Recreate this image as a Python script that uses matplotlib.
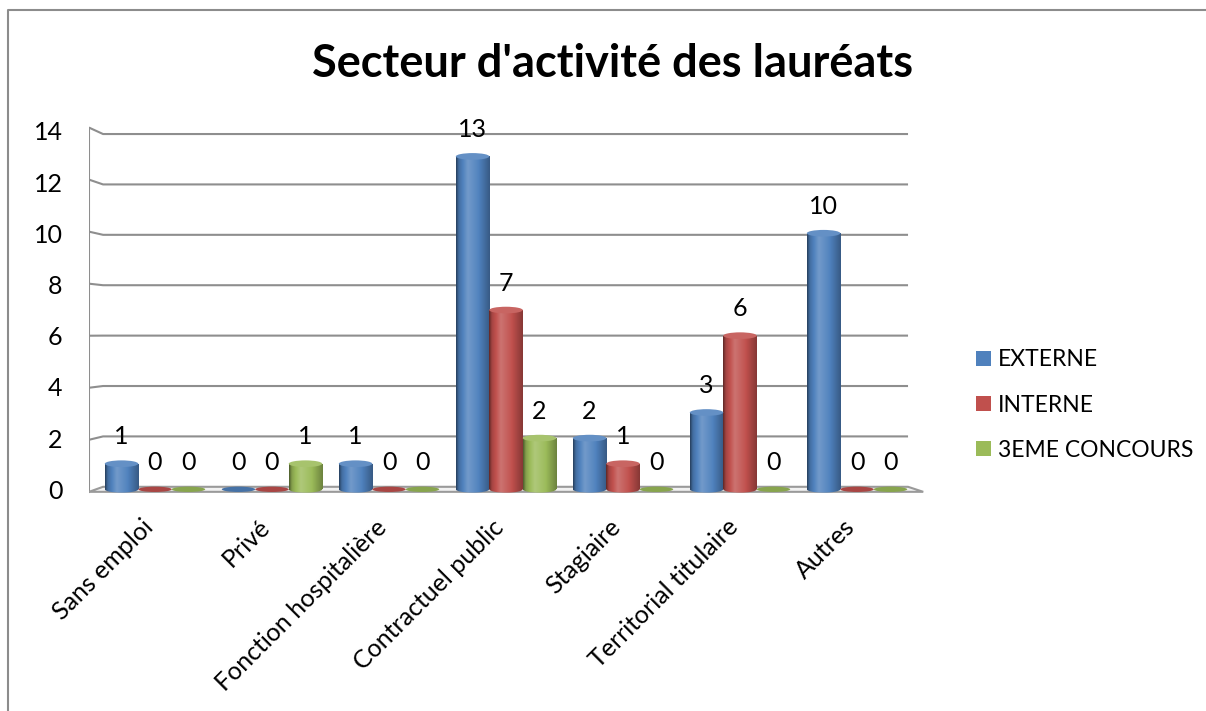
import numpy as np
import matplotlib.pyplot as plt
from matplotlib.patches import Ellipse, Polygon, Patch
from matplotlib.colors import to_rgb

plt.rcParams['font.family'] = ['Lato', 'DejaVu Sans']

# Data
categories = ["Sans emploi", "Privé", "Fonction hospitalière", "Contractuel public",
              "Stagiaire", "Territorial titulaire", "Autres"]
series_names = ["EXTERNE", "INTERNE", "3EME CONCOURS"]
externe = [1, 0, 1, 13, 2, 3, 10]
interne = [0, 0, 0, 7, 1, 6, 0]
troisieme = [0, 1, 0, 2, 0, 0, 0]
colors = ["#4F81BD", "#C0504D", "#9BBB59"]

W, H = 1206, 711
fig = plt.figure(figsize=(W / 100, H / 100), dpi=100)
# axes box in pixels: left 89, right 925, top 118, bottom 497
ax = fig.add_axes([89 / W, 1 - 497 / H, (925 - 89) / W, (497 - 118) / H])

x = np.arange(len(categories))
bw = 0.286
cap = 0.26
fs = 18
xmin, xmax = -0.564, 6.581
ymin, ymax = -0.30, 14.5
back_l, back_r = -0.444, 6.436


def shade(rgb, k):
    rgb = np.asarray(rgb)
    return rgb + (1 - rgb) * k if k >= 0 else rgb * (1 + k)


# horizontal light profile of a cylinder
t = np.linspace(0, 1, 80)
prof = np.interp(t, [0, 0.08, 0.35, 0.65, 1], [-0.5, -0.15, 0.2, 0.03, -0.3])


def gradient(c):
    base = to_rgb(c)
    return np.array([[shade(base, k) for k in prof]])


# back wall gridlines with a little perspective slant on the left side
for v in range(2, 16, 2):
    yb = 0.098 + 0.984 * v
    yf = -0.098 + 1.016 * v
    ax.plot([xmin, back_l, back_r], [yf, yb, yb], color="#8e8e8e", lw=1.5,
            zorder=1, solid_capstyle="butt")
ax.plot([xmin, xmin], [-0.098, -0.098 + 1.016 * 14], color="#8e8e8e", lw=1.5, zorder=1)

# floor
floor = Polygon([(xmin, -0.098), (back_l, 0.098), (back_r, 0.098), (xmax - 0.015, -0.098)],
                closed=True, facecolor="#f2f2f2", edgecolor="#9a9a9a", lw=1.5, zorder=2)
ax.add_patch(floor)

# cylinder bars
for j, (vals, c) in enumerate(zip([externe, interne, troisieme], colors)):
    bars = ax.bar(x + (j - 1) * bw, vals, bw, color=c, linewidth=0, zorder=3)
    grad = gradient(c)
    for patch, v in zip(bars, vals):
        x0, w = patch.get_x(), patch.get_width()
        xc = x0 + w / 2
        if v > 0:
            im = ax.imshow(grad, extent=[x0, x0 + w, 0, v], aspect="auto",
                           interpolation="bilinear", zorder=4)
            im.set_clip_path(patch)
            bottom = Ellipse((xc, 0), w, cap, transform=ax.transData)
            im2 = ax.imshow(grad, extent=[x0, x0 + w, -cap / 2, cap / 2], aspect="auto",
                            interpolation="bilinear", zorder=4)
            im2.set_clip_path(bottom)
            ax.add_patch(Ellipse((xc, v), w, cap, facecolor=shade(to_rgb(c), 0.12),
                                 edgecolor="none", zorder=5))
        else:
            ax.add_patch(Ellipse((xc, 0), w, cap * 0.8, facecolor=shade(to_rgb(c), -0.12),
                                 edgecolor="none", zorder=4))
        ax.text(xc, v + 1.05, str(v), ha="center", va="center", fontsize=fs, zorder=6)

ax.set_xlim(xmin, xmax)
ax.set_ylim(ymin, ymax)
ax.set_yticks(range(0, 15, 2))
ax.set_xticks(x - 0.05, categories, rotation=45, ha="right", va="center",
              rotation_mode="anchor")
ax.tick_params(axis="y", length=0, pad=19, labelsize=fs)
ax.tick_params(axis="x", length=0, pad=19, labelsize=fs)
for s in ax.spines.values():
    s.set_visible(False)

fig.text(613 / W, 1 - 77 / H, "Secteur d'activité des lauréats", ha="center",
         va="baseline", fontsize=32.5, fontweight="bold")

handles = [Patch(facecolor=c) for c in colors]
fig.legend(handles, series_names, loc="center left", bbox_to_anchor=(976 / W, 1 - 405 / H),
           frameon=False, fontsize=16.5, handlelength=0.65, handleheight=0.65,
           handletextpad=0.3, labelspacing=1.05, borderpad=0, borderaxespad=0)

# chart frame (top and left edges visible)
fig.add_artist(plt.Line2D([8 / W, 8 / W, 1.0], [0, 1 - 10 / H, 1 - 10 / H],
                          transform=fig.transFigure, color="#8c8c8c", lw=1.5))

fig.savefig("out.png", dpi=100)
